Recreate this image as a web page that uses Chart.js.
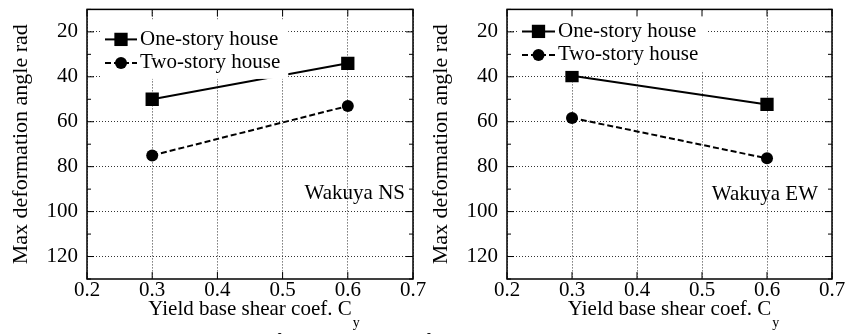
<!DOCTYPE html>
<html><head><meta charset="utf-8">
<script src="https://cdn.jsdelivr.net/npm/chart.js@4/dist/chart.umd.min.js"></script>
<style>
html,body{margin:0;padding:0;background:#fff;width:858px;height:334px;overflow:hidden;position:relative;font-family:"Liberation Serif","Times New Roman",serif;}
canvas{position:absolute;top:0;}
#c1{left:0;} #c2{left:420px;}
#cap{position:absolute;left:97px;top:331px;font-size:21px;line-height:21px;white-space:nowrap;color:#000;}
</style></head><body>
<canvas id="c1" width="429" height="334"></canvas>
<canvas id="c2" width="438" height="334"></canvas>
<div id="cap">Fig. 10 Maximum deformation angle of one-story and two-story houses</div>
<script>
// ---- data ----
const cyValues = [0.3, 0.6];
const nsOneStory = [50, 34];
const nsTwoStory = [75, 53];
const ewOneStory = [39.5, 52.3];
const ewTwoStory = [58.3, 76.3];
const xTickValues = [0.2, 0.3, 0.4, 0.5, 0.6, 0.7];
const yTickValues = [20, 40, 60, 80, 100, 120];
const seriesNames = ['One-story house', 'Two-story house'];
const panelLabels = ['Wakuya NS', 'Wakuya EW'];
const xTitle = 'Yield base shear coef. C';
const xTitleSub = 'y';
const yTitle = 'Max deformation angle rad';

const FONT = '"Liberation Serif", "Times New Roman", serif';
const f21 = {family: FONT, size: 21};
const f22 = {family: FONT, size: 22};

const decor = {
  id: 'decor',
  afterDatasetsDraw(chart, args, o) {
    const {ctx, chartArea: a, scales: {x, y}} = chart;
    ctx.save();
    // legend with opaque box
    ctx.font = '21px ' + FONT;
    const ds = chart.data.datasets;
    const textX = a.left + o.lineEnd + 3;
    let tw = 0;
    ds.forEach(d => { tw = Math.max(tw, ctx.measureText(d.label).width); });
    const r0 = a.top + o.legendTop;
    const r1 = r0 + 23.5 * (ds.length - 1);
    ctx.fillStyle = '#fff';
    ctx.fillRect(a.left + o.lineStart - 4, r0 - 20, textX + tw + 8 - (a.left + o.lineStart - 4), r1 + 16 - (r0 - 20));
    ds.forEach((d, i) => {
      const ry = r0 + 23.5 * i;
      ctx.strokeStyle = '#000';
      ctx.lineWidth = d.borderWidth;
      ctx.setLineDash(d.borderDash || []);
      ctx.beginPath();
      ctx.moveTo(a.left + o.lineStart, ry);
      ctx.lineTo(a.left + o.lineEnd, ry);
      ctx.stroke();
      ctx.setLineDash([]);
      ctx.fillStyle = '#000';
      Chart.helpers.drawPoint(ctx, {pointStyle: d.pointStyle, radius: d.pointRadius, borderWidth: 0, rotation: 0},
        a.left + (o.lineStart + o.lineEnd) / 2, ry);
      ctx.fillStyle = '#000';
      ctx.textAlign = 'left';
      ctx.textBaseline = 'middle';
      ctx.fillText(d.label, textX, ry);
    });
    // frame
    ctx.strokeStyle = '#000';
    ctx.lineWidth = 1.5;
    ctx.strokeRect(a.left, a.top, a.right - a.left, a.bottom - a.top);
    // inward ticks
    ctx.lineWidth = 1;
    const seg = (x1, y1, x2, y2) => { ctx.beginPath(); ctx.moveTo(x1, y1); ctx.lineTo(x2, y2); ctx.stroke(); };
    for (let v = y.min; v <= y.max; v += 10) {
      const py = y.getPixelForValue(v);
      const len = yTickValues.includes(v) ? 7 : 4;
      seg(a.left, py, a.left + len, py);
      seg(a.right, py, a.right - len, py);
    }
    xTickValues.forEach(v => {
      const px = x.getPixelForValue(v);
      seg(px, a.bottom, px, a.bottom - 7);
      seg(px, a.top, px, a.top + 7);
    });
    // panel label
    ctx.fillStyle = '#000';
    ctx.font = '21px ' + FONT;
    ctx.textAlign = 'right';
    ctx.textBaseline = 'alphabetic';
    ctx.fillText(o.label, a.right + o.labelDx, o.labelY);
    // subscript of x title
    const w = ctx.measureText(xTitle).width;
    ctx.font = '14px ' + FONT;
    ctx.textAlign = 'left';
    ctx.textBaseline = 'middle';
    ctx.fillText(xTitleSub, (a.left + a.right) / 2 + w / 2 + 1, 323);
    ctx.restore();
  }
};

function makeChart(id, one, two, label, padRight, deco) {
  const pts = arr => cyValues.map((v, i) => ({x: v, y: arr[i]}));
  return new Chart(document.getElementById(id), {
    type: 'line',
    data: {
      datasets: [
        {label: seriesNames[0], data: pts(one), borderColor: '#000', backgroundColor: '#000', borderWidth: 2,
         pointStyle: 'rect', pointRadius: 9.4, pointBorderWidth: 0, pointBackgroundColor: '#000'},
        {label: seriesNames[1], data: pts(two), borderColor: '#000', backgroundColor: '#000', borderWidth: 2,
         borderDash: [6, 3], pointStyle: 'circle', pointRadius: 6, pointBorderWidth: 0, pointBackgroundColor: '#000'}
      ]
    },
    options: {
      responsive: false, animation: false, devicePixelRatio: 1,
      layout: {padding: {left: 0, top: 1, right: padRight, bottom: 0}},
      plugins: {legend: {display: false}, tooltip: {enabled: false}, decor: Object.assign({label}, deco)},
      scales: {
        x: {
          type: 'linear', min: 0.2, max: 0.7,
          afterBuildTicks: s => { s.ticks = xTickValues.map(v => ({value: v})); },
          afterFit: s => { s.height = 55; s.paddingLeft = 0; s.paddingRight = 0; },
          ticks: {callback: v => v.toFixed(1), font: f21, color: '#000', padding: -1, maxRotation: 0, autoSkip: false},
          grid: {color: '#333', lineWidth: 1, drawTicks: false},
          border: {display: false, dash: [1, 2]},
          title: {display: true, text: xTitle, font: f21, color: '#000', padding: {top: 0, bottom: 12}}
        },
        y: {
          type: 'linear', reverse: true, min: 10, max: 130,
          afterBuildTicks: s => { s.ticks = yTickValues.map(v => ({value: v})); },
          afterFit: s => { s.width = 87; s.paddingTop = 0; s.paddingBottom = 0; },
          ticks: {font: f21, color: '#000', padding: 9},
          grid: {color: '#333', lineWidth: 1, drawTicks: false},
          border: {display: false, dash: [1, 2]},
          title: {display: true, text: yTitle, font: f22, color: '#000', padding: {top: 7.8, bottom: 0}}
        }
      }
    },
    plugins: [decor]
  });
}

makeChart('c1', nsOneStory, nsTwoStory, panelLabels[0], 16,
  {legendTop: 30, lineStart: 18, lineEnd: 50, labelDx: -8, labelY: 199});
makeChart('c2', ewOneStory, ewTwoStory, panelLabels[1], 26,
  {legendTop: 22, lineStart: 15, lineEnd: 48, labelDx: -14, labelY: 200});
</script>
</body></html>
